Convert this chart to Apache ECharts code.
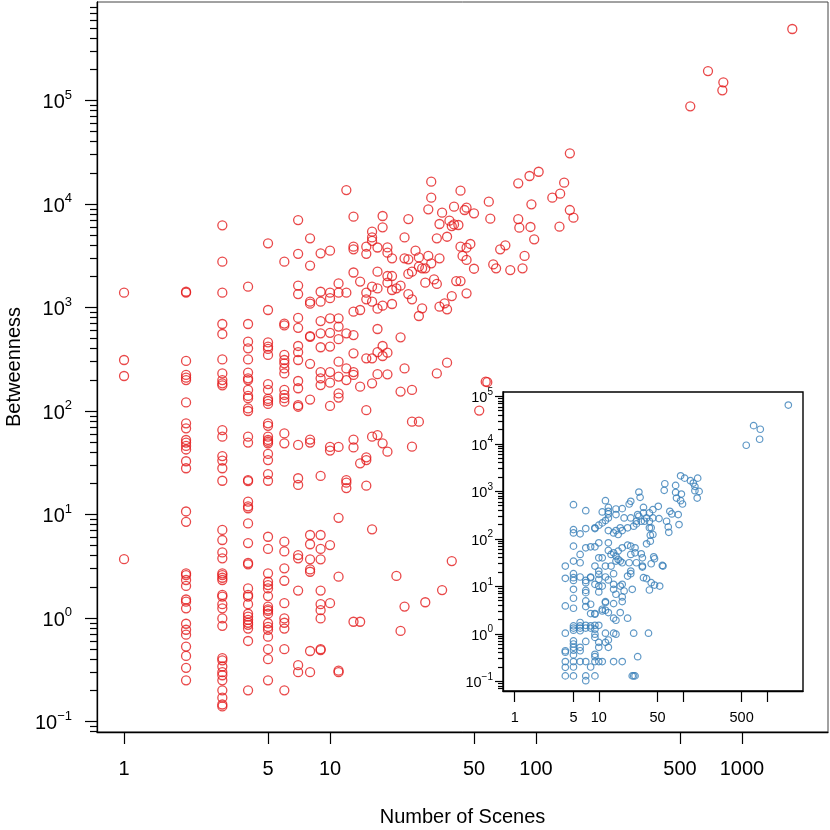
<!DOCTYPE html>
<html>
<head>
<meta charset="utf-8">
<script src="https://cdn.jsdelivr.net/npm/echarts@6/dist/echarts.min.js"></script>
<style>
  html, body { margin: 0; padding: 0; background: #fff; }
  #chart { width: 830px; height: 830px; }
</style>
</head>
<body>
<div id="chart"></div>
<script>
// values: [number of scenes, betweenness]
const redPoints = [
  [1,1390],[1,311],[1,218],[1,3.7],
  [2,1420],[2,1390],[2,305],[2,223],[2,210],[2,199],[2,121],[2,76],[2,68],[2,52.5],[2,49.5],[2,46],[2,42.5],
  [2,32.7],[2,28],[2,10.7],[2,8.5],[2,2.7],[2,2.6],[2,2.33],[2,2.04],[2,1.51],[2,1.44],[2,1.24],[2,0.88],
  [2,0.77],[2,0.69],[2,0.53],[2,0.43],[2,0.33],[2,0.25],
  [3,6220],[3,2770],[3,1390],[3,693],[3,555],[3,315],[3,231],[3,199],[3,185],[3,177],[3,65.5],[3,56.5],
  [3,36.7],[3,33.2],[3,28],[3,21.2],[3,7.1],[3,5.67],[3,4.3],[3,3.77],[3,2.7],[3,2.6],[3,2.45],[3,2.33],
  [3,1.67],[3,1.61],[3,1.36],[3,1.24],[3,0.99],[3,0.84],[3,0.41],[3,0.39],[3,0.34],[3,0.30],[3,0.28],
  [3,0.25],[3,0.20],[3,0.17],[3,0.146],[3,0.14],
  [4,1590],[4,693],[4,468],[4,403],[4,315],[4,235],[4,207],[4,199],[4,160],[4,140],[4,133],[4,106],[4,100],
  [4,56.5],[4,49.5],[4,21.5],[4,21],[4,13.3],[4,12],[4,11.5],[4,8.2],[4,5.3],[4,3.4],[4,3.3],[4,1.93],
  [4,1.67],[4,1.61],[4,1.36],[4,1.1],[4,1.03],[4,0.96],[4,0.9],[4,0.86],[4,0.79],[4,0.6],[4,0.2],
  [5,4170],[5,946],[5,460],[5,419],[5,398],[5,348],[5,182],[5,160],[5,131],[5,125],[5,117],[5,76],[5,72],
  [5,56.5],[5,52.5],[5,50.5],[5,48.7],[5,38.5],[5,33.6],[5,24.6],[5,21.2],[5,6.1],[5,4.65],[5,2.7],
  [5,2.24],[5,2.08],[5,1.93],[5,1.63],[5,1.29],[5,1.21],[5,1.17],[5,1.1],[5,0.89],[5,0.82],[5,0.77],
  [5,0.66],[5,0.5],[5,0.4],[5,0.25],
  [6,2770],[6,700],[6,672],[6,348],[6,311],[6,289],[6,258],[6,231],[6,160],[6,143],[6,133],[6,123],
  [6,60.8],[6,48.7],[6,5.47],[6,4.4],[6,3.02],[6,2.29],[6,1.39],[6,0.99],[6,0.9],[6,0.79],[6,0.5],[6,0.2],
  [7,7000],[7,3300],[7,1630],[7,1350],[7,794],[7,636],[7,425],[7,370],[7,311],[7,195],[7,166],[7,114],
  [7,110],[7,47],[7,22.4],[7,19.3],[7,4.06],[7,3.77],[7,1.84],[7,0.35],[7,0.3],
  [8,4660],[8,2540],[8,1140],[8,1090],[8,530],[8,520],[8,286],[8,129],[8,53],[8,49.5],[8,6.34],[8,5.16],
  [8,3.69],[8,2.95],[8,2.8],[8,0.48],[8,0.30],
  [9,3340],[9,1420],[9,1140],[9,740],[9,563],[9,413],[9,238],[9,207],[9,178],[9,23.6],[9,6.34],[9,4.65],
  [9,3.69],[9,1.84],[9,1.36],[9,1.19],[9,0.99],[9,0.5],[9,0.49],
  [10,3540],[10,1390],[10,1230],[10,786],[10,570],[10,419],[10,238],[10,188],[10,112],[10,45],[10,41.5],
  [10,5.07],[10,1.39],
  [11,1710],[11,1390],[11,786],[11,655],[11,494],[11,300],[11,215],[11,148],[11,135],[11,45],[11,9.3],
  [11,2.51],[11,0.3],[11,0.31],
  [12,13650],[12,1390],[12,563],[12,258],[12,199],[12,21.5],[12,20.3],[12,18],
  [13,7550],[13,3870],[13,3650],[13,2180],[13,912],[13,542],[13,361],[13,238],[13,223],[13,53],[13,44.5],[13,0.92],
  [14,1780],[14,946],[14,172],[14,31.2],[14,0.92],
  [15,3870],[15,3300],[15,1390],[15,1200],[15,323],[15,102],[15,35.7],[15,33.6],[15,19],
  [16,5400],[16,4760],[16,4400],[16,1590],[16,1140],[16,323],[16,185],[16,56.5],[16,7.2],
  [17,3800],[17,2220],[17,1530],[17,975],[17,620],[17,370],[17,227],[17,58.6],
  [18,7660],[18,5950],[19,3810],[19,3390],[20,2985],[19,2015],[20,2015],[19,1738],[20,1476],[22,1625],
  [21,1532],[20,1081],[18,1042],[22,515],[18,425],[19,366],[18,340],[19,226],[22,154],
  [1755,491000],[684,192700],[812,149900],[803,125400],[561,87900],[146,30900],[103,20500],[93,18650],
  [82,15850],[137,16070],[120,11510],[131,12600],[31,16440],[31,11510],[43,13450],[59,10540],[30,8880],
  [35,8250],[40,9420],[45,8750],[46,9220],[50,8130],[24,7160],[60,7220],[82,7160],[83,5910],[94,6000],
  [98,4560],[146,8750],[152,7380],[130,6040],[95,9930],[34,6410],[38,6900],[39,6120],[40,6350],[42,6270],
  [33,4660],[37,4830],[23,4760],[43,3870],[46,3790],[48,4110],[67,3650],[71,3990],[26,3540],[23,2985],
  [24,2920],[27,3050],[30,3150],[34,2985],[44,3150],[46,2880],[88,3150],[62,2610],[64,2390],[75,2300],
  [86,2390],[50,2370],[24,2110],[25,2220],[27,2480],[28,2390],[29,2390],[31,2670],[29,1738],[32,1870],
  [33,1690],[41,1800],[43,1800],[24,1350],[25,1200],[39,1290],[46,1370],[34,1020],[36,1097],[37,960],
  [28,982],[27,828],[23,258],[33,231],[37,293],[25,160],[57,192],[58,190],
  [25,78.9],[27,78.9],[18,48.7],[19,40.5],[25,45.2],[39,3.55],[21,2.55],[23,1.29],[29,1.42],[35,1.86],
  [22,0.75],[53,101]
];

const bluePoints = [
  [1795,65300],[694,24100],[833,20200],[818,12450],[567,9310],
  [94,2120],[105,1890],[123,1670],[133,1490],[150,1890],[61,1440],[82,1330],[139,1270],[60,1045],[82,948],
  [96,875],[139,1028],[156,995],[30,963],[31,745],[148,721],[84,721],[94,634],[99,540],[24,614],[23,540],
  [51,482],[34,459],[12,634],[5,523],[7,391],
  [16,424],[19,431],[13,379],[11,367],[16,323],[20,275],[24,275],[29,323],[34,350],[40,350],[44,411],
  [37,275],[44,275],[52,266],[35,234],[40,234],[28,234],[30,298],[70,379],[74,333],[88,323],[64,234],
  [67,178],[90,199],[68,137],[9,170],[9,164],[10,193],[11,216],[12,242],[13,275],[13,333],[13,459],
  [5,156],[5,133],[6,127],[7,164],[13,149],[15,133],[17,123],[16,149],[19,149],[18,170],[22,170],[26,184],
  [28,206],[32,234],[40,170],[42,170],[44,123],[41,119],
  [5,70],[4,26.7],[5,33.9],[6,46.8],[6,31.3],[7,64.6],[8,67.8],[9,67.8],[10,82.2],[10,39.8],[11,39.8],
  [9,26.7],[12,26.7],[14,26.7],[10,20.9],[13,82.2],[13,56.8],[14,46.8],[15,50.7],[17,55],[16,43.2],
  [17,36.7],[18,33.9],[19,31.3],[16,33.9],[19,64.6],[22,73.5],[24,70],[27,64.6],[27,50.7],[24,46.8],
  [32,48.3],[33,39.8],[28,31.3],[23,31.3],[33,26.7],[41,89],[37,78.3],[45,41.8],[46,38],[42,29.8],
  [57,27.5],[58,26.7],
  [5,18.4],[5,15.2],[5,13.3],[4,14.7],[6,15.7],[7,13.3],[7,11.9],[8,15.7],[8,15.2],[7,7.35],[7,8.2],
  [5,8.64],[5,5.6],[5,3.45],[4,3.86],[7,4.92],[7,3.74],[8,4.19],[9,11],[10,17.8],[10,14],[10,10.1],
  [11,10.1],[10,7.6],[12,15.7],[13,13.6],[15,18.4],[15,11],[15,8.64],[16,6.8],[18,10.1],[19,11],[20,7.96],
  [19,5.97],[19,4.76],[12,4.76],[12,4.54],[15,4.32],[25,8.64],[22,16.4],[24,18.4],[24,20.9],[33,25.4],
  [34,15.2],[37,14.5],[42,11.9],[46,10.6],[53,10.1],[40,8.36],[11,3.29],
  [9,2.67],[8,2.67],[9,2.58],[11,3.03],[12,3.13],[13,2.8],[15,2.13],[16,1.93],[18,2.8],[22,2.13],[4,1.03],
  [5,1.47],[5,1.32],[5,1.19],[6,1.73],[6,1.47],[6,1.32],[6,1.16],[7,1.51],[7,1.32],[7,0.69],[8,1.47],
  [8,1.32],[9,1.51],[9,1.25],[9,0.98],[9,0.84],[10,1.51],[10,0.66],[12,1.03],[13,0.74],[13,0.52],
  [15,1.03],[16,0.98],[26,1.03],[39,1.03],[5,0.71],[5,0.61],
  [4,0.44],[4,0.41],[5,0.52],[5,0.45],[6,0.52],[6,0.44],[5,0.36],[4,0.26],[4,0.197],[4,0.13],[5,0.26],
  [5,0.2],[5,0.13],[6,0.26],[7,0.26],[7,0.13],[7,0.103],[8,0.2],[9,0.26],[9,0.33],[9,0.37],[9,0.13],
  [10,0.26],[11,0.26],[15,0.26],[19,0.26],[29,0.33],[25,0.13],[26,0.13],[27,0.13],[10,0.52],[12,0.66]
];

// tick values
const xTicks = [1, 5, 10, 50, 100, 500, 1000];
const insetXLabels = [1, 5, 10, 50, 500];
const yDecades = [0.1, 1, 10, 100, 1000, 10000, 100000];

// axis ranges (R pads the data range by 4 %)
const mainX = [0.739, 2616];
const mainY = [0.0792, 895000];
const insetX = [0.726, 2683];
const insetY = [0.0625, 123000];

const FONT = '"Liberation Sans", Arial, sans-serif';

function minorTicks(range) {
  const out = [];
  for (let e = -2; e <= 6; e++) {
    for (let m = 2; m <= 9; m++) {
      const v = m * Math.pow(10, e);
      if (v >= range[0] && v <= range[1]) out.push(v);
    }
  }
  return out;
}

function powLabel(v) {
  const e = Math.round(Math.log10(v));
  return '{b|10}{s|' + (e < 0 ? '\u2212' + (-e) : e) + '}';
}

function yAxes(grid, range, big, opts) {
  return [
    {
      type: 'log', gridIndex: grid, min: range[0], max: range[1], position: 'left', z: opts.z,
      splitLine: { show: false },
      axisLine: { show: true, lineStyle: { color: '#000', width: 1.3 } },
      axisTick: { customValues: yDecades, length: big.tick, lineStyle: { color: '#000', width: 1.2 } },
      axisLabel: {
        customValues: yDecades, formatter: powLabel, margin: big.margin, color: '#000',
        fontFamily: FONT,
        rich: {
          b: { fontSize: big.font, lineHeight: big.font + 4, fontFamily: FONT, color: '#000', verticalAlign: 'bottom' },
          s: { fontSize: big.sup, lineHeight: big.sup, fontFamily: FONT, color: '#000', verticalAlign: 'top' }
        }
      },
      name: opts.name, nameLocation: 'middle', nameGap: opts.nameGap,
      nameTextStyle: { fontSize: 20, fontFamily: FONT, color: '#000' }
    },
    {
      type: 'log', gridIndex: grid, min: range[0], max: range[1], position: 'left', z: opts.z,
      splitLine: { show: false },
      axisLine: { show: false },
      axisTick: { customValues: minorTicks(range), length: big.minor, lineStyle: { color: '#000', width: 1.2 } },
      axisLabel: { show: false }
    }
  ];
}

const chart = echarts.init(document.getElementById('chart'), null, { renderer: 'canvas' });

chart.setOption({
  animation: false,
  backgroundColor: '#fff',
  grid: [
    { left: 97, top: 2, right: 2, bottom: 98, show: true, borderColor: '#444', borderWidth: 1, z: 0,
      containLabel: false, outerBoundsMode: 'none' },
    { left: 503, top: 392, width: 300, height: 299, show: true, backgroundColor: '#fff',
      borderColor: '#000', borderWidth: 1.4, z: 5, containLabel: false, outerBoundsMode: 'none' }
  ],
  xAxis: [
    {
      type: 'log', gridIndex: 0, min: mainX[0], max: mainX[1],
      splitLine: { show: false },
      axisLine: { show: true, lineStyle: { color: '#000', width: 1.3 } },
      axisTick: { customValues: xTicks, length: 12, lineStyle: { color: '#000', width: 1.2 } },
      axisLabel: { customValues: xTicks, formatter: v => String(Math.round(v)), fontSize: 20,
        fontFamily: FONT, color: '#000', margin: 27 },
      name: 'Number of Scenes', nameLocation: 'middle', nameGap: 75,
      nameTextStyle: { fontSize: 20, fontFamily: FONT, color: '#000' }
    },
    {
      type: 'log', gridIndex: 1, min: insetX[0], max: insetX[1], z: 6,
      splitLine: { show: false },
      axisLine: { show: true, lineStyle: { color: '#000', width: 1.3 } },
      axisTick: { customValues: xTicks, length: 11, lineStyle: { color: '#000', width: 1.2 } },
      axisLabel: { customValues: insetXLabels, formatter: v => String(Math.round(v)), fontSize: 14.5,
        fontFamily: FONT, color: '#000', margin: 19 }
    }
  ],
  yAxis: [].concat(
    yAxes(0, mainY, { tick: 12, minor: 7, margin: 25, font: 20, sup: 13 },
      { z: 0, name: 'Betweenness', nameGap: 72 }),
    yAxes(1, insetY, { tick: 8, minor: 5, margin: 10, font: 14.5, sup: 10 },
      { z: 6, name: '', nameGap: 0 })
  ),
  series: [
    {
      type: 'scatter', xAxisIndex: 0, yAxisIndex: 0, data: redPoints, z: 2, silent: true,
      symbol: 'circle', symbolSize: 9,
      itemStyle: { color: 'rgba(0,0,0,0)', borderColor: '#E41A1C', borderWidth: 1.3 }
    },
    {
      type: 'scatter', xAxisIndex: 1, yAxisIndex: 2, data: bluePoints, z: 7, silent: true,
      symbol: 'circle', symbolSize: 6.5,
      itemStyle: { color: 'rgba(0,0,0,0)', borderColor: '#377EB8', borderWidth: 1.2 }
    }
  ]
});
</script>
</body>
</html>
